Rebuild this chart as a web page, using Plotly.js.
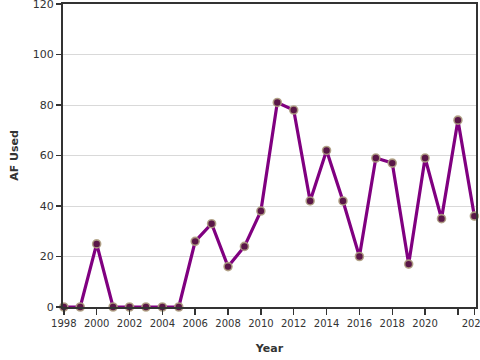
<!DOCTYPE html>
<html><head><meta charset="utf-8">
<script src="https://cdn.plot.ly/plotly-3.0.1.min.js"></script>
<style>html,body{margin:0;padding:0;background:#fff;overflow:hidden}#chart{width:480px;height:360px}</style>
</head><body><div id="chart"></div>
<script>
const years = [1998,1999,2000,2001,2002,2003,2004,2005,2006,2007,2008,2009,2010,2011,2012,2013,2014,2015,2016,2017,2018,2019,2020,2021,2022,2023];
const afUsed = [0,0,25,0,0,0,0,0,26,33,16,24,38,81,78,42,62,42,20,59,57,17,59,35,74,36];
const xTickVals = [1998,2000,2002,2004,2006,2008,2010,2012,2014,2016,2018,2020,2022,2023];
const xTickText = ['1998','2000','2002','2004','2006','2008','2010','2012','2014','2016','2018','2020','','2023'];
const yTickVals = [0,20,40,60,80,100,120];

const trace = {
  x: years, y: afUsed, type: 'scatter', mode: 'lines+markers',
  line: {color: '#800080', width: 3.2},
  marker: {size: 8, color: '#5a1648', line: {color: 'rgba(175,160,130,0.9)', width: 1.6}},
  cliponaxis: false, hoverinfo: 'none'
};
const fnt = {family: 'DejaVu Sans, Verdana, sans-serif', size: 11, color: '#333'};
const layout = {
  width: 480, height: 360,
  margin: {l: 63, r: 4, t: 4, b: 53},
  paper_bgcolor: '#fff', plot_bgcolor: '#fff',
  showlegend: false,
  font: fnt,
  xaxis: {
    range: [1997.95, 2023.1], tickvals: xTickVals, ticktext: xTickText,
    ticks: 'outside', ticklen: 6, tickwidth: 1.5, tickcolor: '#333',
    showgrid: false, zeroline: false,
    showline: true, linecolor: '#333', linewidth: 2, mirror: true,
    tickfont: {family: fnt.family, size: 10, color: '#333'},
    ticklabeloverflow: 'allow',
    title: {text: '<b>Year</b>', font: {family: fnt.family, size: 11, color: '#333'}, standoff: 16},
    automargin: false
  },
  yaxis: {
    range: [0, 120], tickvals: yTickVals,
    ticks: 'outside', ticklen: 5, tickwidth: 1.5, tickcolor: '#333',
    showgrid: true, gridcolor: '#d9d9d9', gridwidth: 1, zeroline: false,
    showline: true, linecolor: '#333', linewidth: 2, mirror: true,
    tickfont: {family: fnt.family, size: 11, color: '#333'},
    ticklabeloverflow: 'allow',
    title: {text: '<b>AF Used</b>', font: {family: fnt.family, size: 11, color: '#333'}, standoff: 12},
    automargin: false
  }
};
Plotly.newPlot('chart', [trace], layout, {staticPlot: true, displayModeBar: false});
</script></body></html>
